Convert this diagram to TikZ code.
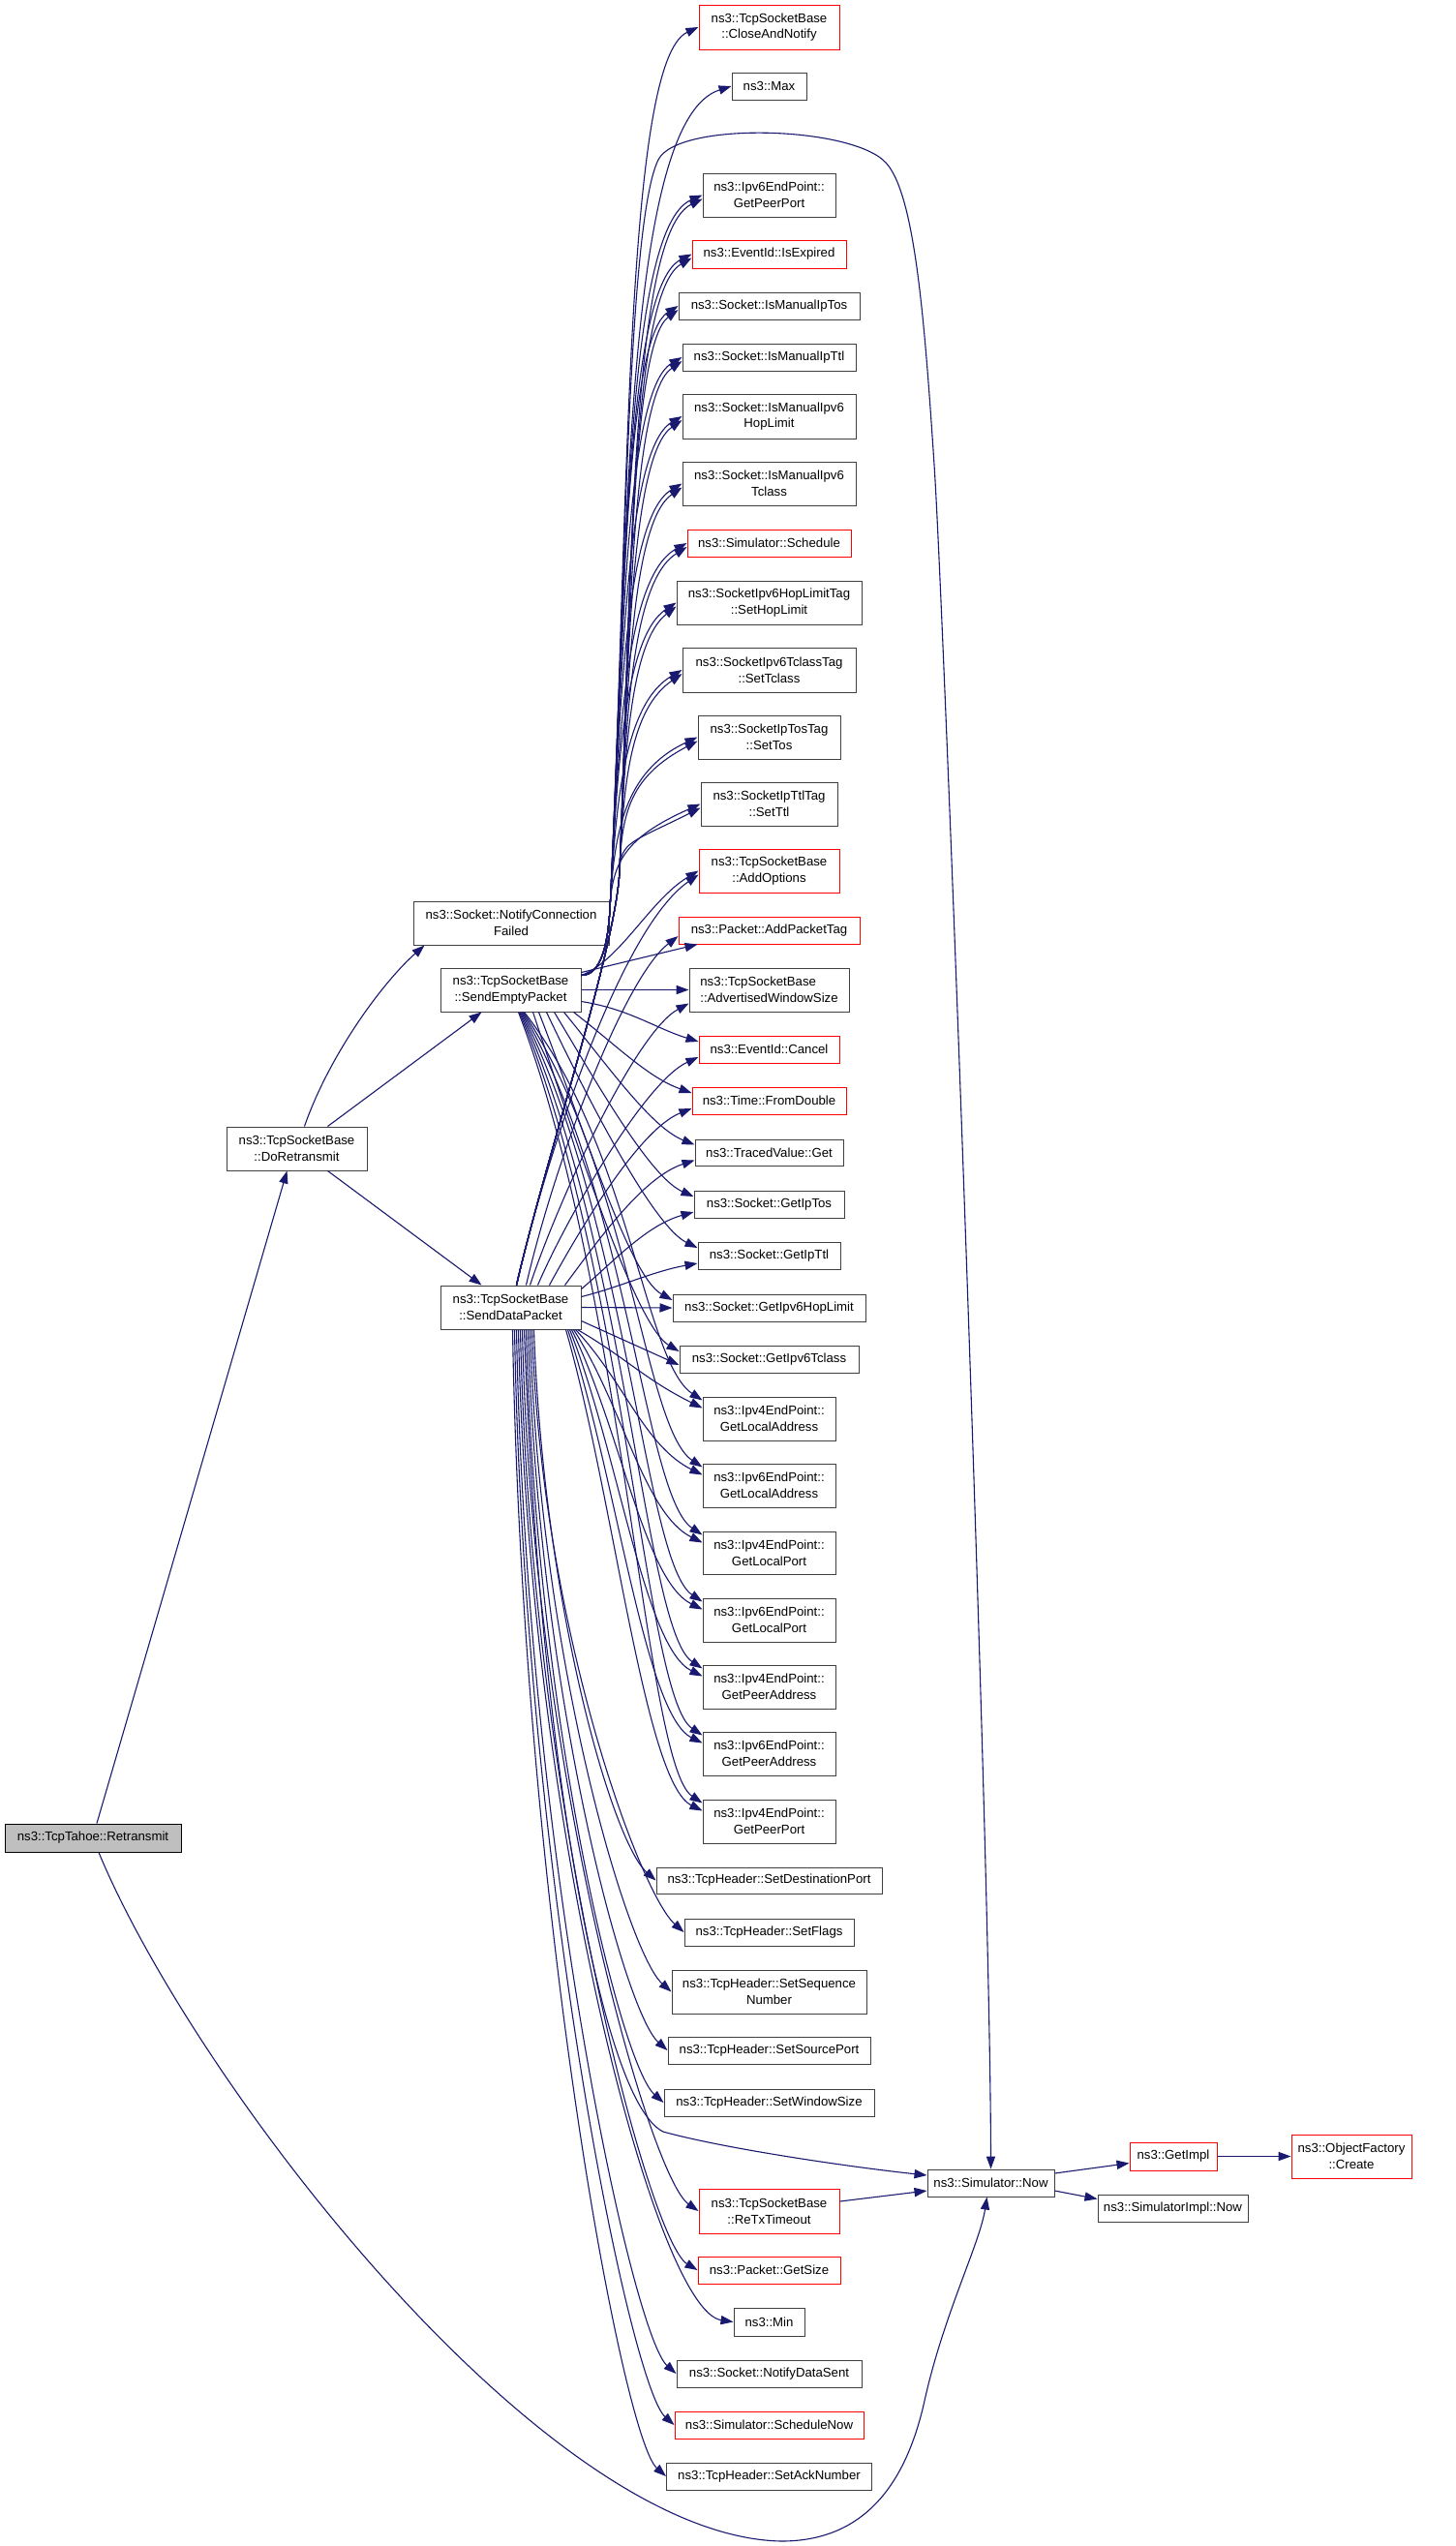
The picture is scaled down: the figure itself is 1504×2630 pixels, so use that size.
\documentclass[tikz,border=0pt]{standalone}
\usepackage{fontspec}
\setmainfont{Liberation Sans}
\usetikzlibrary{arrows.meta}
\definecolor{mblue}{RGB}{25,25,112}
\definecolor{bxgray}{RGB}{64,64,64}
\definecolor{retgray}{RGB}{191,191,191}
\newcommand{\dxfont}{\fontsize{6.6pt}{8.35pt}\selectfont}
\tikzset{
  nb/.style={draw=bxgray, line width=0.5pt, fill=white, inner sep=0pt, font=\dxfont, align=center, text=black},
  rb/.style={nb, draw=red},
  bw/.style={minimum width={#1*0.5pt}},
  bh/.style={minimum height={#1*0.5pt}},
  ed/.style={draw=mblue, line width=0.55pt, -{Triangle[length=6.5pt,width=4.6pt]}},
}
\begin{document}
\begin{tikzpicture}[x=0.5pt,y=-0.5pt]
\fill[white] (0,0) rectangle (1504,2630);
\useasboundingbox (0,0) rectangle (1504,2630);

% right column
\node[rb,bw=145,bh=46] (CAN) at (794.5,28) {ns3::TcpSocketBase\\::CloseAndNotify};
\node[nb,bw=77,bh=28] (MAX) at (794.5,89) {ns3::Max};
\node[nb,bw=137,bh=45] (P6PP) at (794.5,201.5) {ns3::Ipv6EndPoint::\\GetPeerPort};
\node[rb,bw=159,bh=29] (ISEXP) at (794.5,262.5) {ns3::EventId::IsExpired};
\node[nb,bw=187,bh=28] (IMTOS) at (794.5,316) {ns3::Socket::IsManualIpTos};
\node[nb,bw=179,bh=28] (IMTTL) at (794.5,369) {ns3::Socket::IsManualIpTtl};
\node[nb,bw=179,bh=46] (IMHL) at (794.5,430) {ns3::Socket::IsManualIpv6\\HopLimit};
\node[nb,bw=179,bh=45] (IMTC) at (794.5,499.5) {ns3::Socket::IsManualIpv6\\Tclass};
\node[rb,bw=169,bh=28] (SCHED) at (794.5,561) {ns3::Simulator::Schedule};
\node[nb,bw=191,bh=45] (SHL) at (794.5,622.5) {ns3::SocketIpv6HopLimitTag\\::SetHopLimit};
\node[nb,bw=179,bh=46] (STC) at (794.5,692) {ns3::SocketIpv6TclassTag\\::SetTclass};
\node[nb,bw=147,bh=45] (STOS) at (794.5,761.5) {ns3::SocketIpTosTag\\::SetTos};
\node[nb,bw=141,bh=45] (STTL) at (794.5,830.5) {ns3::SocketIpTtlTag\\::SetTtl};
\node[rb,bw=145,bh=45] (ADDOPT) at (794.5,899.5) {ns3::TcpSocketBase\\::AddOptions};
\node[rb,bw=187,bh=28] (APT) at (794.5,961) {ns3::Packet::AddPacketTag};
\node[nb,bw=165,bh=45,align=left] (AWS) at (794.5,1022.5) {ns3::TcpSocketBase\\::AdvertisedWindowSize};
\node[rb,bw=145,bh=28] (CANCEL) at (794.5,1084) {ns3::EventId::Cancel};
\node[rb,bw=159,bh=28] (FROMD) at (794.5,1137) {ns3::Time::FromDouble};
\node[nb,bw=153,bh=27] (TVGET) at (794.5,1190.5) {ns3::TracedValue::Get};
\node[nb,bw=155,bh=28] (GTOS) at (794.5,1244) {ns3::Socket::GetIpTos};
\node[nb,bw=147,bh=28] (GTTL) at (794.5,1297) {ns3::Socket::GetIpTtl};
\node[nb,bw=199,bh=28] (GHL) at (794.5,1351) {ns3::Socket::GetIpv6HopLimit};
\node[nb,bw=185,bh=28] (GTC) at (794.5,1404) {ns3::Socket::GetIpv6Tclass};
\node[nb,bw=137,bh=45] (P4LA) at (794.5,1465.5) {ns3::Ipv4EndPoint::\\GetLocalAddress};
\node[nb,bw=137,bh=45] (P6LA) at (794.5,1534.5) {ns3::Ipv6EndPoint::\\GetLocalAddress};
\node[nb,bw=137,bh=44] (P4LP) at (794.5,1604) {ns3::Ipv4EndPoint::\\GetLocalPort};
\node[nb,bw=137,bh=45] (P6LP) at (794.5,1673.5) {ns3::Ipv6EndPoint::\\GetLocalPort};
\node[nb,bw=137,bh=45] (P4PA) at (794.5,1742.5) {ns3::Ipv4EndPoint::\\GetPeerAddress};
\node[nb,bw=137,bh=45] (P6PA) at (794.5,1811.5) {ns3::Ipv6EndPoint::\\GetPeerAddress};
\node[nb,bw=137,bh=45] (P4PP) at (794.5,1881.5) {ns3::Ipv4EndPoint::\\GetPeerPort};
\node[nb,bw=233,bh=27] (SDP) at (794.5,1942.5) {ns3::TcpHeader::SetDestinationPort};
\node[nb,bw=175,bh=28] (SFL) at (794.5,1996) {ns3::TcpHeader::SetFlags};
\node[nb,bw=201,bh=45] (SSN) at (794.5,2057.5) {ns3::TcpHeader::SetSequence\\Number};
\node[nb,bw=209,bh=28] (SSP) at (794.5,2118) {ns3::TcpHeader::SetSourcePort};
\node[nb,bw=217,bh=28] (SWS) at (794.5,2172) {ns3::TcpHeader::SetWindowSize};
\node[rb,bw=145,bh=46] (RTO) at (794.5,2284) {ns3::TcpSocketBase\\::ReTxTimeout};
\node[rb,bw=147,bh=28] (GSIZE) at (794.5,2345) {ns3::Packet::GetSize};
\node[nb,bw=73,bh=29] (MIN) at (794.5,2398.5) {ns3::Min};
\node[nb,bw=191,bh=28] (NDS) at (794.5,2452) {ns3::Socket::NotifyDataSent};
\node[rb,bw=195,bh=28] (SNOW) at (794.5,2505) {ns3::Simulator::ScheduleNow};
\node[nb,bw=212,bh=28] (SAN) at (794.5,2558) {ns3::TcpHeader::SetAckNumber};

% left and right parts
\node[nb,bw=182,bh=29,fill=retgray,draw=black] (RET) at (96,1898.5) {ns3::TcpTahoe::Retransmit};
\node[nb,bw=145,bh=45] (DORT) at (306.5,1186.5) {ns3::TcpSocketBase\\::DoRetransmit};
\node[nb,bw=202,bh=45] (NCF) at (528,953.5) {ns3::Socket::NotifyConnection\\Failed};
\node[nb,bw=145,bh=45] (SE) at (527.5,1022.5) {ns3::TcpSocketBase\\::SendEmptyPacket};
\node[nb,bw=145,bh=45] (SD) at (527.5,1350.5) {ns3::TcpSocketBase\\::SendDataPacket};
\node[nb,bw=131,bh=28] (NOW) at (1023.5,2255) {ns3::Simulator::Now};
\node[rb,bw=90,bh=29] (GIMPL) at (1212,2227.5) {ns3::GetImpl};
\node[rb,bw=124,bh=45] (OFC) at (1396,2227.5) {ns3::ObjectFactory\\::Create};
\node[nb,bw=155,bh=28] (SIN) at (1211.5,2281) {ns3::SimulatorImpl::Now};

% Retransmit
\draw[ed] ([xshift=2pt]RET.north) -- ([xshift=-5pt]DORT.south);
\draw[ed] ([xshift=3pt]RET.south) .. controls (200,2150) and (560,2620) .. (807,2625)
  .. controls (890,2625) and (935,2570) .. (955,2480)
  .. controls (975,2390) and (1012,2318) .. ([xshift=-2pt]NOW.south);

% DoRetransmit
\draw[ed] ([xshift=4pt]DORT.north) .. controls (340,1090) and (395,1015) .. ([xshift=6pt]NCF.south west);
\draw[ed] ([xshift=16pt]DORT.north) -- ([xshift=-15pt]SE.south);
\draw[ed] ([xshift=16pt]DORT.south) -- ([xshift=-15pt]SD.north);

% SendEmptyPacket upward bundle
\foreach \nn/\xa/\ya/\yb in {CAN/650/530/63, MAX/649/557/124, P6PP/647/608/236.5, ISEXP/645/635/297.5,
  IMTOS/644/659/351, IMTTL/643/683/404, IMHL/642/710/465, IMTC/640/742/534.5, SCHED/639/769/596,
  SHL/637/797/657.5, STC/636/828/727, STOS/634/860/796.5, STTL/632/891/865.5}
  \draw[ed] ([yshift=-4pt]SE.north east) .. controls +(22,0) and +(-2,30) .. (630,940)
    .. controls (\xa,\ya) and (645,\yb) .. (\nn.west);
\draw[ed] ([yshift=-4pt]SE.north east) .. controls +(22,0) and +(-2,30) .. (630,940)
  .. controls (645,700) and (645,235) .. (680,165)
  .. controls (700,125) and (880,130) .. (915,168)
  .. controls (945,200) and (955,330) .. (965,480)
  .. controls (975,630) and (1023,1900) .. (NOW.north);
\draw[ed] ([yshift=-4pt]SE.north east) .. controls +(40,-15) and +(-50,30) .. (ADDOPT.west);
\draw[ed] ([yshift=-2.5pt]SE.north east) -- ([xshift=10pt]APT.south west);
\draw[ed] (SE.east) -- (AWS.west);
\draw[ed] ([yshift=-6pt]SE.east) .. controls +(50,8) and +(-45,-14) .. ([yshift=4pt]CANCEL.west);
\foreach \nn/\sx/\cy/\dy in {FROMD/-4pt/35/16, TVGET/-9pt/55/18, GTOS/-14pt/75/20, GTTL/-18pt/95/22,
  GHL/-22pt/115/25, GTC/-25pt/135/27}
  \draw[ed] ([xshift=\sx]SE.south east) .. controls +(45,\cy) and +(-45,-\dy) .. ([yshift=4pt]\nn.west);
\foreach \nn/\sx/\cy in {P4LA/7pt/141, P6LA/6.5pt/165, P4LP/6pt/189, P6LP/5.5pt/214, P4PA/5pt/238,
  P6PA/4.5pt/262, P4PP/4pt/286}
  \draw[ed] ([xshift=\sx]SE.south) .. controls +(110,\cy) and +(-60,-40) .. ([yshift=-2pt]\nn.north west);

% SendDataPacket upward bundle
\foreach \nn/\xa/\ya/\yb in {P6PP/653/586/241.5, ISEXP/651/613/302.5, IMTOS/651/637/356, IMTTL/650/661/409,
  IMHL/648/688/470, IMTC/647/720/539.5, SCHED/646/747/601, SHL/645/775/662.5, STC/644/806/732,
  STOS/642/838/801.5, STTL/641/869/870.5}
  \draw[ed] ([xshift=3pt]SD.north) .. controls +(30,-130) and +(-4,80) .. (640,900)
    .. controls (\xa,\ya) and (652,\yb) .. ([yshift=-2pt]\nn.west);
\draw[ed] ([xshift=3pt]SD.north) .. controls +(30,-130) and (640,960) .. ([yshift=-2pt]ADDOPT.west);
\draw[ed] ([xshift=8pt]SD.north) .. controls +(30,-130) and (645,1010) .. ([yshift=-3pt]APT.west);
\draw[ed] ([xshift=10pt]SD.north) .. controls +(30,-90) and +(-55,30) .. ([yshift=-7pt]AWS.west);
\draw[ed] ([xshift=14pt]SD.north) .. controls +(30,-70) and +(-55,25) .. ([yshift=-4pt]CANCEL.west);
\draw[ed] ([xshift=20pt]SD.north) .. controls +(30,-55) and +(-55,22) .. ([yshift=-4pt]FROMD.west);
\draw[ed] ([xshift=28pt]SD.north) .. controls +(30,-40) and +(-55,18) .. ([yshift=-4pt]TVGET.west);
\draw[ed] ([yshift=-2pt]SD.north east) .. controls +(30,-25) and +(-50,14) .. ([yshift=-4pt]GTOS.west);
\draw[ed] ([yshift=-6pt]SD.north east) .. controls +(40,-10) and +(-45,8) .. ([yshift=-4pt]GTTL.west);
\draw[ed] (SD.east) -- (GHL.west);
\draw[ed] ([yshift=-7pt]SD.east) -- ([yshift=-3pt]GTC.west);
\foreach \nn/\sx/\cy in {P4LA/-2pt/29, P6LA/-3pt/53, P4LP/-4pt/77, P6LP/-5pt/102, P4PA/-6pt/126,
  P6PA/-7pt/150, P4PP/-8pt/174}
  \draw[ed] ([xshift=\sx]SD.south east) .. controls +(50,\cy) and +(-60,-30) .. ([yshift=-6pt]\nn.north west);

% SendDataPacket downward
\foreach \nn/\sx/\cy/\ea/\eb in {SDP/12pt/285/-45/-40, SFL/11pt/311/-45/-40, SSN/10pt/342/-45/-40,
  SSP/9pt/372/-45/-40, SWS/8pt/400/-45/-40, RTO/6pt/455/-50/-35, GSIZE/5pt/486/-50/-30,
  MIN/4pt/512/-80/-12, NDS/3pt/540/-45/-40, SNOW/2pt/566/-45/-40, SAN/1pt/592/-45/-40}
  \draw[ed] ([xshift=\sx]SD.south) .. controls +(10,\cy) and +(\ea,\eb) .. (\nn.west);
\draw[ed] ([xshift=7pt]SD.south) .. controls +(15,430) and +(-65,-32) .. (685,2202)
  .. controls +(65,18) and +(-75,-8) .. ([yshift=4pt]NOW.west);

% Simulator::Now area
\draw[ed] ([yshift=5pt]RTO.east) -- ([yshift=-4pt]NOW.west);
\draw[ed] ([yshift=5pt]NOW.east) -- ([yshift=-3.5pt]GIMPL.west);
\draw[ed] ([yshift=-4pt]NOW.east) -- ([yshift=-2.5pt]SIN.north west);
\draw[ed] (GIMPL.east) -- (OFC.west);
\end{tikzpicture}
\end{document}
